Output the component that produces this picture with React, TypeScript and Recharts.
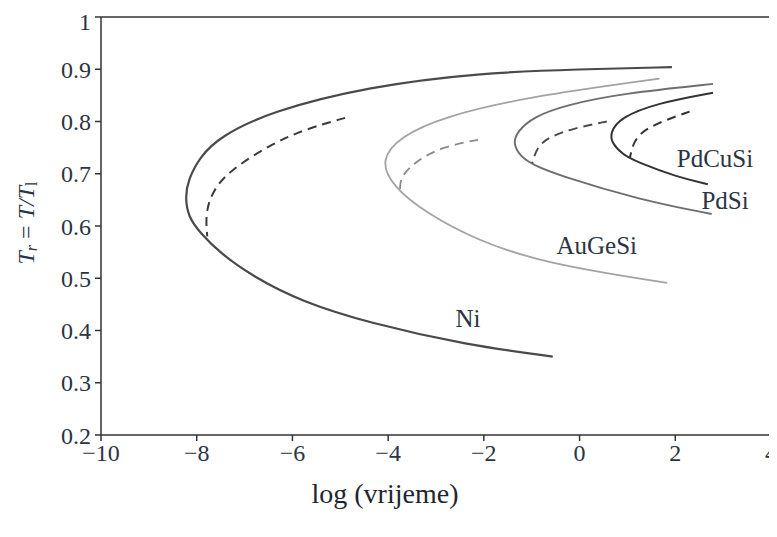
import React from 'react';
import { LineChart, Line, XAxis, YAxis, ReferenceLine, ReferenceDot, Label } from 'recharts';

type P = { x: number; y: number };

const xTicks = [-10, -8, -6, -4, -2, 0, 2, 4];
const yTicks = [0.2, 0.3, 0.4, 0.5, 0.6, 0.7, 0.8, 0.9, 1];

const niSolid: P[] = [
  { x: 1.93, y: 0.904 }, { x: 0.0, y: 0.9 }, { x: -2.1, y: 0.893 }, { x: -4.4, y: 0.867 },
  { x: -6.47, y: 0.819 }, { x: -7.51, y: 0.771 }, { x: -7.93, y: 0.733 }, { x: -8.18, y: 0.688 },
  { x: -8.24, y: 0.656 }, { x: -8.18, y: 0.618 }, { x: -7.93, y: 0.587 }, { x: -7.51, y: 0.548 },
  { x: -6.82, y: 0.503 }, { x: -5.8, y: 0.455 }, { x: -4.38, y: 0.414 }, { x: -2.35, y: 0.372 },
  { x: -0.56, y: 0.35 },
];
const niDashed: P[] = [
  { x: -4.9, y: 0.807 }, { x: -5.78, y: 0.784 }, { x: -6.47, y: 0.755 }, { x: -7.3, y: 0.707 },
  { x: -7.66, y: 0.669 }, { x: -7.82, y: 0.625 }, { x: -7.78, y: 0.58 },
];
const auSolid: P[] = [
  { x: 1.67, y: 0.882 }, { x: -1.1, y: 0.847 }, { x: -2.85, y: 0.809 }, { x: -3.75, y: 0.771 },
  { x: -4.17, y: 0.726 }, { x: -3.9, y: 0.675 }, { x: -3.19, y: 0.624 }, { x: -2.15, y: 0.573 },
  { x: -0.77, y: 0.529 }, { x: 1.83, y: 0.491 },
];
const auDashed: P[] = [
  { x: -2.12, y: 0.765 }, { x: -2.85, y: 0.752 }, { x: -3.4, y: 0.726 }, { x: -3.75, y: 0.694 },
  { x: -3.75, y: 0.669 },
];
const pdSolid: P[] = [
  { x: 2.79, y: 0.872 }, { x: 0.91, y: 0.854 }, { x: -0.27, y: 0.832 }, { x: -0.97, y: 0.809 },
  { x: -1.31, y: 0.78 }, { x: -1.39, y: 0.758 }, { x: -1.24, y: 0.733 }, { x: -0.97, y: 0.717 },
  { x: -0.47, y: 0.698 }, { x: 1.26, y: 0.65 }, { x: 2.76, y: 0.623 },
];
const pdDashed: P[] = [
  { x: 0.57, y: 0.8 }, { x: -0.13, y: 0.787 }, { x: -0.62, y: 0.771 }, { x: -0.89, y: 0.752 },
  { x: -0.99, y: 0.72 },
];
const pdcuSolid: P[] = [
  { x: 2.79, y: 0.855 }, { x: 1.61, y: 0.835 }, { x: 0.84, y: 0.807 }, { x: 0.64, y: 0.778 },
  { x: 0.67, y: 0.759 }, { x: 0.91, y: 0.736 }, { x: 1.19, y: 0.723 }, { x: 2.03, y: 0.694 },
  { x: 2.68, y: 0.68 },
];
const pdcuDashed: P[] = [
  { x: 2.3, y: 0.819 }, { x: 1.61, y: 0.797 }, { x: 1.15, y: 0.772 }, { x: 1.05, y: 0.73 },
];

const seriesLabels = [
  { name: 'Ni', x: -2.33, y: 0.424 },
  { name: 'AuGeSi', x: 0.36, y: 0.564 },
  { name: 'PdCuSi', x: 2.83, y: 0.73 },
  { name: 'PdSi', x: 3.04, y: 0.65 },
];

const FONT = '"Liberation Serif", "DejaVu Serif", serif';
const TXT = '#2a3444';
const AX = '#333';

const fmtX = (v: number) => (v < 0 ? '\u2212' + Math.abs(v) : String(v));
const fmtY = (v: number) => String(Math.round(v * 10) / 10);

export default function App() {
  return (
    <div style={{ width: 769, height: 521 }}>
      <style>{`.recharts-surface{overflow:visible}`}</style>
      <LineChart width={769} height={521} margin={{ top: 9, right: 6, left: 0, bottom: 0 }}>
        <XAxis
          dataKey="x"
          type="number"
          domain={[-10, 4]}
          ticks={xTicks}
          tickFormatter={fmtX}
          allowDataOverflow
          height={94}
          stroke={AX}
          strokeWidth={1.5}
          tickSize={6}
          tick={{ fill: TXT, fontFamily: FONT, fontSize: 24 }}
          tickMargin={3}
        >
          <Label
            content={() => (
              <text x={377} y={485} textAnchor="middle" dominantBaseline="central"
                fontFamily={FONT} fontSize={28} fill="#1e2530">log (vrijeme)</text>
            )}
          />
        </XAxis>
        <YAxis
          dataKey="y"
          type="number"
          domain={[0.2, 1]}
          ticks={yTicks}
          tickFormatter={fmtY}
          allowDataOverflow
          width={93}
          stroke={AX}
          strokeWidth={1.5}
          tickSize={6}
          tick={{ fill: TXT, fontFamily: FONT, fontSize: 24 }}
          tickMargin={4}
        >
          <Label
            content={() => (
              <text x={18} y={215} textAnchor="middle" dominantBaseline="central"
                transform="rotate(-90 18 215)" fontFamily={FONT} fontSize={24} fill={TXT}>
                <tspan fontStyle="italic">T</tspan>
                <tspan fontStyle="italic" fontSize={16} dy={5}>r</tspan>
                <tspan dy={-5}> = </tspan>
                <tspan fontStyle="italic">T/T</tspan>
                <tspan fontSize={16} dy={5}>l</tspan>
              </text>
            )}
          />
        </YAxis>
        <ReferenceLine y={1} stroke={AX} strokeWidth={1.5} />
        <ReferenceLine x={4} stroke={AX} strokeWidth={1.5} />

        <Line data={niSolid} dataKey="y" type="basis" stroke="#4a4a4a" strokeWidth={2.2} dot={false} isAnimationActive={false} />
        <Line data={niDashed} dataKey="y" type="basis" stroke="#3a3a3a" strokeWidth={2} strokeDasharray="9 6" dot={false} isAnimationActive={false} />
        <Line data={auSolid} dataKey="y" type="basis" stroke="#a3a3a3" strokeWidth={1.8} dot={false} isAnimationActive={false} />
        <Line data={auDashed} dataKey="y" type="basis" stroke="#8a8a8a" strokeWidth={1.8} strokeDasharray="9 6" dot={false} isAnimationActive={false} />
        <Line data={pdSolid} dataKey="y" type="basis" stroke="#6e6e6e" strokeWidth={1.9} dot={false} isAnimationActive={false} />
        <Line data={pdDashed} dataKey="y" type="basis" stroke="#4a4a4a" strokeWidth={1.9} strokeDasharray="9 6" dot={false} isAnimationActive={false} />
        <Line data={pdcuSolid} dataKey="y" type="basis" stroke="#333333" strokeWidth={2} dot={false} isAnimationActive={false} />
        <Line data={pdcuDashed} dataKey="y" type="basis" stroke="#333333" strokeWidth={2} strokeDasharray="9 6" dot={false} isAnimationActive={false} />

        {seriesLabels.map((l) => (
          <ReferenceDot key={l.name} x={l.x} y={l.y} r={0} stroke="none" fill="none"
            label={{ value: l.name, position: 'center', fill: TXT, fontFamily: FONT, fontSize: 25 }} />
        ))}
      </LineChart>
    </div>
  );
}
